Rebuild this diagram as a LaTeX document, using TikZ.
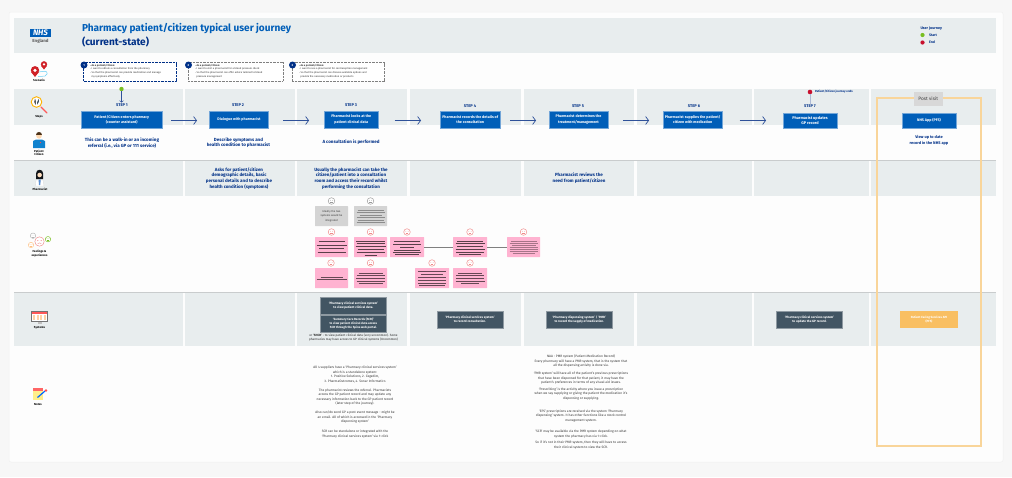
\documentclass[tikz,border=0pt]{standalone}
\usepackage{fontspec}
\setmainfont{Fira Sans}
\usetikzlibrary{arrows.meta,calc}
\definecolor{pagebg}{HTML}{F7F7F7}
\definecolor{card}{HTML}{FDFDFD}
\definecolor{band}{HTML}{E8EDEE}
\definecolor{nhsblue}{HTML}{005EB8}
\definecolor{navy}{HTML}{003087}
\definecolor{rule}{HTML}{C9CCCD}
\definecolor{slate}{HTML}{425563}
\definecolor{pinkbox}{HTML}{FFB3D1}
\definecolor{greybox}{HTML}{D4D4D4}
\definecolor{orangeb}{HTML}{F9D59A}
\definecolor{orangef}{HTML}{F9BF62}
\definecolor{arrowc}{HTML}{2F5199}
\definecolor{facer}{HTML}{F08A8A}
\definecolor{lime}{HTML}{78BE20}
\definecolor{redd}{HTML}{C8102E}
\tikzset{
  x=1pt,y=-1pt,
  every node/.style={inner sep=0pt,outer sep=0pt},
  stepbox/.style={fill=nhsblue,draw=nhsblue!55,line width=.5pt,text=white,align=center,
     font=\fontsize{3.7}{5.2}\selectfont\bfseries},
  steplabel/.style={text=navy,font=\fontsize{4}{5}\selectfont\bfseries},
  lead/.style={text=navy,align=center,font=\fontsize{4.5}{5.7}\selectfont\bfseries},
  sysbox/.style={fill=slate,draw=slate!60,line width=.5pt,text=white,align=center,
     font=\fontsize{3.1}{4.4}\selectfont\bfseries},
  notes/.style={text=black!80,align=center,font=\fontsize{3.25}{4.55}\selectfont},
  iconlabel/.style={text=black,align=center,font=\fontsize{2.9}{3.8}\selectfont\bfseries},
  scen/.style={draw=#1,dashed,dash pattern=on .8pt off .6pt,line width=.45pt,fill=white},
  scentext/.style={text=black!80,align=left,anchor=north west,font=\fontsize{2.55}{3.55}\selectfont},
  badge/.style={circle,fill=navy,text=white,minimum size=7pt,font=\fontsize{3}{3}\selectfont\bfseries},
  flow/.style={draw=arrowc,line width=.7pt,-{Straight Barb[length=3pt,width=8pt,line width=.7pt]}},
  feel/.style={line width=.4pt,rounded corners=.5pt},
  bar/.style={line width=.55pt},
  link/.style={draw=black!50,line width=.6pt},
}
% name, x1, y1, x2, y2, style, text
\newcommand\rectnode[7]{%
  \pgfmathsetmacro\rw{#4-#2}\pgfmathsetmacro\rh{#5-#3}%
  \pgfmathsetmacro\rx{(#2+#4)/2}\pgfmathsetmacro\ry{(#3+#5)/2}%
  \node[#6,minimum width=\rw pt,minimum height=\rh pt] (#1) at (\rx,\ry) {#7};}
\newcommand\barset[4]{% cx, unused, colour, list y/halfwidth
  \foreach \yy/\hw in {#4}{\draw[bar,draw=#3] (#1-\hw,\yy) -- (#1+\hw,\yy);}}
\newcommand\face[4]{% x,y,r,colour
  \draw[draw=#4,fill=white,line width=.45pt] (#1,#2) circle (#3);
  \fill[#4] (#1-.36*#3,#2-.2*#3) circle (.12*#3) (#1+.36*#3,#2-.2*#3) circle (.12*#3);
  \draw[#4,line width=.35pt] (#1-.4*#3,#2+.48*#3) .. controls (#1-.1*#3,#2+.22*#3) and (#1+.1*#3,#2+.22*#3) .. (#1+.4*#3,#2+.48*#3);}
\newcommand\pin[3]{% tip x, tip y, size
  \fill[redd!85!orange] (#1,#2-1.6*#3) circle (#3);
  \fill[redd!85!orange] (#1,#2) -- (#1-.9*#3,#2-1.15*#3) -- (#1+.9*#3,#2-1.15*#3) -- cycle;
  \fill[white] (#1,#2-1.6*#3) circle (.42*#3);}
\begin{document}
\begin{tikzpicture}
\useasboundingbox (0,0) rectangle (1012,477);
\fill[pagebg] (0,0) rectangle (1012,477);
\draw[draw=black!6,fill=card,line width=.5pt,rounded corners=2pt] (9,12) rectangle (1003,462);
% rows
\fill[band] (14,18) rectangle (996,53);
\foreach \xa/\xb in {14/183,185/295,297/407,410/521,524/634,637/752,754/869,871/996}{
  \fill[band] (\xa,89) rectangle (\xb,125);
  \fill[band] (\xa,161) rectangle (\xb,196);
  \fill[band] (\xa,293) rectangle (\xb,346);
}
\draw[rule,line width=.8pt] (14,160.3) -- (996,160.3);
\draw[rule,line width=.8pt] (14,292.3) -- (996,292.3);
% logo and title
\node[fill=nhsblue,text=white,minimum width=21pt,minimum height=8.5pt,font=\fontsize{8}{8}\selectfont\bfseries\itshape] (logo) at (40.5,33) {NHS};
\node[text=black!65,font=\fontsize{4.4}{5}\selectfont\bfseries] (england) at (40.5,41.5) {England};
\node[anchor=west,text=nhsblue,font=\fontsize{10.05}{11}\selectfont\bfseries] (title1) at (82,28.5) {Pharmacy patient/citizen typical user journey};
\node[anchor=west,text=navy,font=\fontsize{10.05}{11}\selectfont\bfseries] (title2) at (82,42) {(current-state)};
% legend
\node[anchor=west,steplabel,font=\fontsize{3.7}{4.5}\selectfont\bfseries] (legend) at (920.5,28) {User journey};
\fill[lime] (922.5,35) circle (2.1);
\fill[redd] (922.5,42.5) circle (2.1);
\node[anchor=west,steplabel,font=\fontsize{3.5}{4.5}\selectfont\bfseries] (lstart) at (929,35) {Start};
\node[anchor=west,steplabel,font=\fontsize{3.5}{4.5}\selectfont\bfseries] (lend) at (929,42.5) {End};
% scenarios
\rectnode{sc1}{83.5}{62.5}{176}{81}{scen=navy}{}
\rectnode{sc2}{188}{62.5}{283}{81}{scen=black!50}{}
\rectnode{sc3}{292}{62.5}{384.5}{81}{scen=black!50}{}
\node[scentext] (sc1t) at (90,64.3) {{\bfseries - As a patient/citizen:}\\ - I want to obtain a consultation from the pharmacy\\ - So that the pharmacist can provide medication and manage\\ \ \ my symptoms effectively};
\node[scentext] (sc2t) at (195,64.3) {{\bfseries - As a patient/citizen:}\\ - I want to visit a pharmacist for a blood pressure check\\ - So that the pharmacist can offer advice tailored to blood\\ \ \ pressure management};
\node[scentext] (sc3t) at (299,64.3) {{\bfseries - As a patient/citizen:}\\ - I want to see a pharmacist for contraception management\\ - So that the pharmacist can discuss available options and\\ \ \ provide the necessary medication or products};
\node[badge] (b1) at (84,65) {1};
\node[badge] (b2) at (188.5,65) {2};
\node[badge] (b3) at (292.5,65) {3};
% step labels
\node[steplabel] (l1) at (122,105) {STEP 1};
\node[steplabel] (l2) at (238,105) {STEP 2};
\node[steplabel] (l3) at (351,105) {STEP 3};
\node[steplabel] (l4) at (470,106.5) {STEP 4};
\node[steplabel] (l5) at (578,106) {STEP 5};
\node[steplabel] (l6) at (694,106) {STEP 6};
\node[steplabel] (l7) at (810,106.5) {STEP 7};
% step boxes
\rectnode{s1}{81.5}{111}{162}{128}{stepbox}{Patient/Citizen enters pharmacy\\(counter assistant)}
\rectnode{s2}{209.5}{111}{268.5}{128}{stepbox}{Dialogue with pharmacist}
\rectnode{s3}{324}{111}{378.5}{128}{stepbox}{Pharmacist looks at the\\patient clinical data}
\rectnode{s4}{440.5}{111}{500}{128}{stepbox}{Pharmacist records the details of\\the consultation}
\rectnode{s5}{549}{111}{608}{128}{stepbox}{Pharmacist determines the\\treatment/management}
\rectnode{s6}{663}{111}{722.5}{128}{stepbox}{Pharmacist supplies the patient/\\citizen with medication}
\rectnode{s7}{783}{113}{837}{128}{stepbox,font=\fontsize{3.9}{5.6}\selectfont\bfseries}{Pharmacist updates\\GP record}
\draw[flow,shorten <=9pt,shorten >=12.5pt] ($(s1.east)+(0,1)$) -- ($(s2.west)+(0,1)$);
\draw[flow,shorten <=14.5pt,shorten >=15pt] ($(s2.east)+(0,1)$) -- ($(s3.west)+(0,1)$);
\draw[flow,shorten <=16pt,shorten >=19.5pt] ($(s3.east)+(0,1)$) -- ($(s4.west)+(0,1)$);
\draw[flow,shorten <=10pt,shorten >=13pt] ($(s4.east)+(0,1)$) -- ($(s5.west)+(0,1)$);
\draw[flow,shorten <=15pt,shorten >=14pt] ($(s5.east)+(0,1)$) -- ($(s6.west)+(0,1)$);
\draw[flow,shorten <=17pt,shorten >=17pt] ($(s6.east)+(0,1)$) -- ($(s7.west |- s6.east)+(0,1)$);
% start / end of journey
\node[circle,fill=lime,minimum size=4.4pt] (jstart) at (121.5,89) {};
\draw[draw=arrowc,line width=.5pt,-{Straight Barb[length=1.6pt,width=4pt,line width=.5pt]},shorten >=1pt] (jstart) -- (l1.north -| jstart);
\node[circle,fill=redd,minimum size=4.6pt] (jend) at (810,92) {};
\draw[draw=arrowc!40,line width=.9pt,shorten <=.8pt] (l7.north) -- (jend);
\node[anchor=west,text=navy,font=\fontsize{2.9}{3.5}\selectfont\bfseries] (jendt) at (815,92) {Patient/Citizen journey ends};
% patient row
\node[lead] (p1) at (122,142.8) {This can be a walk-in or an incoming\\referral (i.e., via GP or 111 service)};
\node[lead] (p2) at (238.5,142.8) {Describe symptoms and\\health condition to pharmacist};
\node[lead] (p3) at (351,142.5) {A consultation is performed};
% pharmacist row
\node[lead] (h2) at (239,178.5) {Asks for patient/citizen\\demographic details, basic\\personal details and to describe\\health condition (symptoms)};
\node[lead] (h3) at (351,178.5) {Usually the pharmacist can take the\\citizen/patient into a consultation\\room and access their record whilst\\performing the consultation};
\node[lead] (h5) at (579,178) {Pharmacist reviews the\\need from patient/citizen};
% feelings: grey
\rectnode{g1}{315}{206}{348}{226}{feel,fill=greybox,align=center,text=black!75,font=\fontsize{2.7}{4.3}\selectfont}{Ideally the two\\systems would be\\integrated}
\rectnode{g2}{354}{206}{387}{226}{feel,fill=greybox}{}
\barset{370.5}{0}{black!45}{210/13,212.5/14,215/11,217.5/14,220/13,222.5/14}
\face{331.5}{201}{3.3}{black!40}
\face{370.5}{201}{3.3}{black!40}
% feelings: row 2
\rectnode{f1}{315}{237}{348}{257}{feel,fill=pinkbox}{}
\rectnode{f2}{354}{237}{387}{257}{feel,fill=pinkbox}{}
\rectnode{f3}{390}{237}{424}{257}{feel,fill=pinkbox}{}
\rectnode{f4}{453}{237}{487}{257}{feel,fill=pinkbox}{}
\rectnode{f5}{507}{237}{540}{257}{feel,fill=pinkbox}{}
\draw[link] (f3) -- (f4);
\draw[link] (f4) -- (f5);
\barset{331.5}{0}{black!65!pinkbox}{241.5/13,245/15,248.5/12.5,252.5/14}
\barset{370.5}{0}{black!65!pinkbox}{241/14.5,243.5/14,246/15,249.5/13,252/14,255/6}
\barset{407}{0}{black!65!pinkbox}{241/13,244/14,247/7,250/13,252.5/14,254.5/12}
\barset{470}{0}{black!65!pinkbox}{241/13,243.5/14.5,246/13,249/14.5,252/14,254.5/11}
\barset{523.5}{0}{black!35!pinkbox}{241/13,243/14,245/12,247/14,249/14,251/14,253.5/11}
\foreach \xx in {331.5,370.5,407,470,523.5}{\face{\xx}{232}{3.3}{facer}}
% feelings: row 3
\rectnode{f6}{315}{268}{348}{288}{feel,fill=pinkbox}{}
\rectnode{f7}{354}{268}{387}{288}{feel,fill=pinkbox}{}
\rectnode{f8}{415}{268}{449}{288}{feel,fill=pinkbox}{}
\rectnode{f9}{453}{268}{487}{288}{feel,fill=pinkbox}{}
\barset{331.5}{0}{black!60!pinkbox}{277.5/11,279.5/15}
\barset{370.5}{0}{black!60!pinkbox}{273/12,275.5/14,278/14.5,281/14,283.5/12}
\barset{432}{0}{black!60!pinkbox}{271/14,274/11,277/14,280/14,283/14,285/13}
\barset{470}{0}{black!60!pinkbox}{273/12,275.5/14,278/14,281/14.5,283.5/9}
\foreach \xx in {331,370.5,432,470}{\face{\xx}{263}{3.3}{facer}}
% systems
\rectnode{y1}{320}{297}{386.7}{314}{sysbox}{`Pharmacy clinical services system'\\to view patient clinical data.}
\rectnode{y2}{320}{315}{386.7}{332}{sysbox,font=\fontsize{3}{4.2}\selectfont\bfseries}{`Summary Care Records (SCR)'\\to view patient clinical data access\\SCR through the Spine web portal.}
\node[notes,font=\fontsize{3.05}{4.4}\selectfont,text=black!85] (y2b) at (353.5,337.5) {or {\bfseries`SHCR'} - to view patient clinical data (very uncommon). Some\\pharmacies may have access to GP clinical systems (Uncommon)};
\rectnode{y3}{437}{311}{503}{328}{sysbox}{`Pharmacy clinical services system'\\to record consultation.}
\rectnode{y4}{546}{311}{612.5}{328}{sysbox}{`Pharmacy dispensing system' / `PMR'\\to record the supply of medication.}
\rectnode{y5}{776.5}{311}{842.5}{328}{sysbox}{`Pharmacy clinical services system'\\to update the GP record.}
% notes
\node[notes] (n1) at (355,374.5) {All 4 suppliers have a `Pharmacy clinical services system'\\which is a standalone system:\\1. Positive Solutions, 2. Cegedim,\\3. PharmaOutcomes, 4. Sonar Informatics};
\node[notes] (n2) at (355,397) {The pharmacist reviews the referral. Pharmacists\\access the GP patient record and may update any\\necessary information back to the GP patient record\\(later step of the journey).};
\node[notes] (n3) at (355,417.3) {Also can/do send GP a post event message - might be\\an email. All of which is accessed in the `Pharmacy\\dispensing system'};
\node[notes] (n4) at (355,434.2) {SCR can be standalone or integrated with the\\`Pharmacy clinical services system' via 1-click};
\node[notes] (m1) at (581,361.3) {NAA - PMR system (Patient Medication Record)\\Every pharmacy will have a PMR system, that is the system that\\all the dispensing activity is done via.};
\node[notes] (m2) at (581,378.5) {`PMR system' will have all of the patient's previous prescriptions\\that have been dispensed for that patient, it may have the\\patient's preferences in terms of any visual aid issues.};
\node[notes] (m3) at (581,393.7) {`Prescribing' is the activity where you issue a prescription\\when we say supplying or giving the patient the medication it's\\dispensing or supplying.};
\node[notes] (m4) at (581,415.7) {`EPS' prescriptions are received via the system `Pharmacy\\dispensing' system. It has other functions like a stock control\\management system.};
\node[notes] (m5) at (581,434.2) {`SCR' may be available via the PMR system depending on what\\system the pharmacy has via 1-click.};
\node[notes] (m6) at (581,444.9) {So if it's not in their PMR system, then they will have to access\\their clinical system to view the SCR.};
% post visit
\draw[orangeb,line width=1.3pt] (877,98) rectangle (981,446);
\rectnode{pv}{914}{92}{942.5}{106}{fill=greybox!90,text=black!75,font=\fontsize{4.8}{6}\selectfont}{Post visit}
\rectnode{s8}{902}{113}{956}{128}{stepbox}{NHS App (PFS)}
\node[lead,font=\fontsize{3.9}{5.6}\selectfont\bfseries] (p8) at (929,140.3) {View up to date\\record in the NHS app};
\rectnode{y6}{900}{311}{958}{328}{fill=orangef,text=white,align=center,font=\fontsize{3}{4.3}\selectfont\bfseries}{Patient Facing Services API\\(PFS)}
% left column icons
\draw[cyan!60,line width=.5pt,rounded corners=2pt] (38,72) -- (47,71) -- (47,76) -- (38,76.5);
\pin{35}{77}{4.2}
\pin{44}{69.5}{3.2}
\node[iconlabel] (ic1) at (39,80.7) {Scenario};
% steps icon
\draw[red!65,line width=1.2pt,line cap=round] (41,107) -- (47,113);
\draw[orange!60!yellow,fill=white,line width=.9pt] (36.5,102) circle (5.3);
\fill[black!65] (35,98.5) .. controls (33.5,101) and (34,103) .. (35.8,105) .. controls (36.2,102) and (36,100) .. (35,98.5);
\fill[slate] (38.8,98.8) .. controls (37,101) and (37,103) .. (37.2,104.5) .. controls (38.8,103) and (39.5,101) .. (38.8,98.8);
\node[iconlabel] (ic2) at (39,116.5) {Steps};
% patient icon
\fill[cyan!65!blue] (33,141) -- (36,139.5) -- (42,139.5) -- (45,141) -- (45,148) -- (33,148) -- cycle;
\fill[orange!30!white] (39,135.8) circle (2.8);
\fill[black!60!brown] (36,134.5) .. controls (36,130.5) and (42,130.5) .. (42,134.5) -- cycle;
\fill[red!70] (40.5,142.5) circle (.7);
\node[iconlabel] (ic3) at (39,152.8) {Patient\\Citizen};
% pharmacist icon
\fill[black!75!slate] (36,179) -- (36,173.5) .. controls (36,168.5) and (43.2,168.5) .. (43.2,173.5) -- (43.2,179) -- cycle;
\fill[orange!25!white] (39.6,175) circle (2.3);
\draw[black!15,fill=white,line width=.3pt] (35.5,186) -- (36,180) -- (43,180) -- (44,186) -- cycle;
\fill[cyan!50!blue!70] (38.5,179.5) -- (40.8,179.5) -- (40.2,185) -- (39,185) -- cycle;
\node[iconlabel] (ic4) at (40,189.2) {Pharmacist};
% feelings icon
\face{33}{235.7}{2.7}{black!30}
\face{48}{239.2}{2.7}{lime}
\face{31}{245}{2.7}{orange!50}
\face{39.5}{241.5}{4.7}{facer}
\node[iconlabel] (ic5) at (39.5,253.5) {Feelings \&\\experiences};
% systems icon
\fill[black!55] (31,311) rectangle (47.7,321.5);
\fill[white] (32,312) rectangle (46.7,320.5);
\fill[red!65] (32,312) rectangle (46.7,314);
\foreach \cx in {34,37.5,41,44.5}{\fill[orange!35] (\cx-1,315) rectangle (\cx+1,320);}
\fill[black!25] (37.5,321.5) rectangle (41.5,323.8);
\node[iconlabel] (ic6) at (39.5,327.3) {Systems};
% notes icon
\fill[orange!30!yellow!45] (33,389) rectangle (43,400);
\fill[red!60] (33,388) rectangle (43,391);
\draw[blue!60!cyan,line width=1.2pt] (37.5,397.5) -- (45,391);
\fill[red!70] (46,390.5) circle (1.3);
\node[iconlabel] (ic7) at (38,404.2) {Notes};
\end{tikzpicture}
\end{document}
